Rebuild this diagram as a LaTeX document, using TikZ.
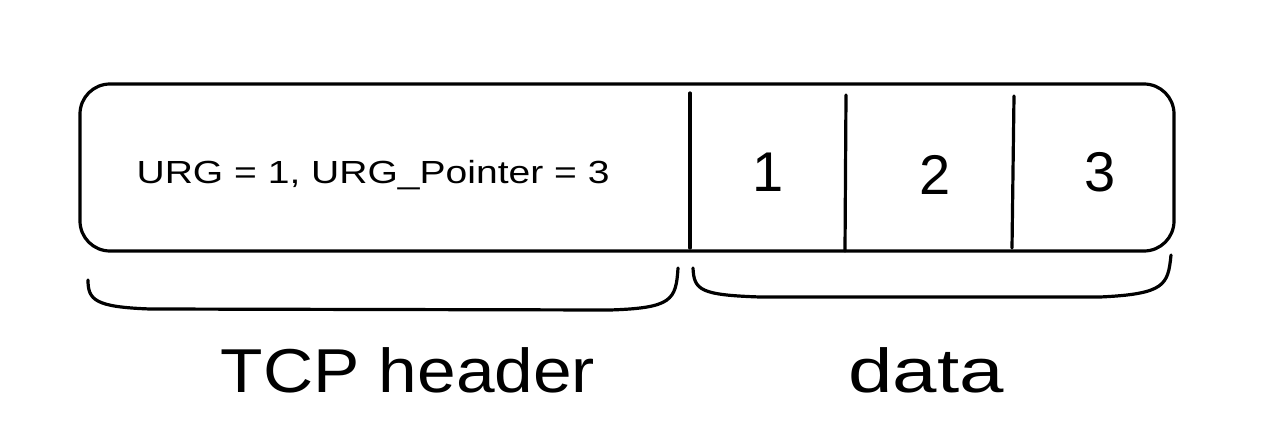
\documentclass[tikz,border=0pt]{standalone}
\usepackage{fontspec}
\setmainfont{Liberation Sans}
\begin{document}
\begin{tikzpicture}[x=0.5pt,y=-0.5pt,
  stroke/.style={line width=1.6pt,line cap=round,line join=round},
  small/.style={font=\fontsize{16}{19}\selectfont,anchor=west,xscale=1.22},
  digit/.style={font=\fontsize{28}{32}\selectfont},
  label/.style={font=\fontsize{31}{36}\selectfont,xscale=1.12}]
\useasboundingbox (0,0) rectangle (1280,433);
\draw[stroke,rounded corners=15pt] (80,84) rectangle (1174,251);
\coordinate (d1t) at (690,93); \coordinate (d1b) at (690,248);
\coordinate (d2t) at (846,95); \coordinate (d2b) at (845,251);
\coordinate (d3t) at (1014,96); \coordinate (d3b) at (1012,248);
\draw[stroke] (d1t) -- (d1b);
\draw[stroke] (d2t) -- (d2b);
\draw[stroke] (d3t) -- (d3b);
\node[small] (hdr) at (128,175) {URG = 1, URG\_Pointer = 3};
\node[digit] (n1) at (768,172) {1};
\node[digit] (n2) at (935,175) {2};
\node[digit] (n3) at (1100,172) {3};
\coordinate (b1a) at (88,280); \coordinate (b1b) at (678,268);
\draw[stroke] (b1a) .. controls (88,300) and (95,307) .. (150,309) -- (610,310)
  .. controls (672,308) and (676,300) .. (b1b);
\coordinate (b2a) at (693,268); \coordinate (b2b) at (1171,255);
\draw[stroke] (b2a) .. controls (694,290) and (700,295) .. (760,297) -- (1100,297)
  .. controls (1165,294) and (1168,285) .. (b2b);
\node[label] (tcp) at (408,370) {TCP header};
\node[label,xscale=1.15] (data) at (926,370) {data};
\end{tikzpicture}
\end{document}
